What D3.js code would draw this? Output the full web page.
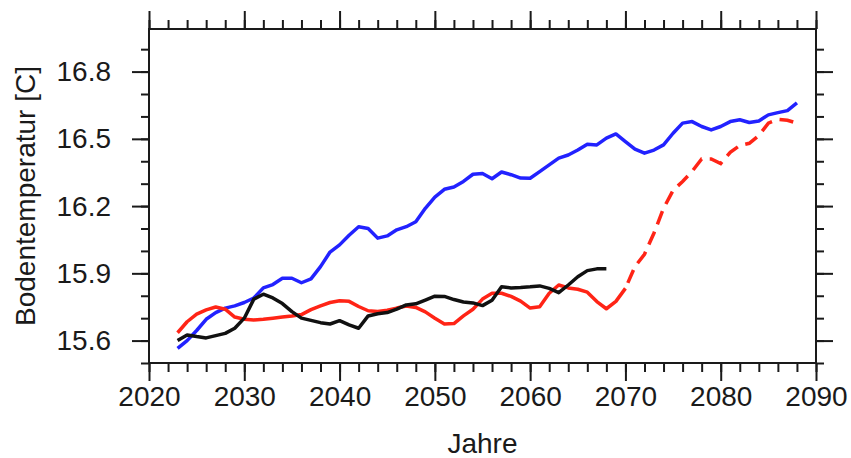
<!DOCTYPE html>
<html>
<head>
<meta charset="utf-8">
<script src="https://cdn.jsdelivr.net/npm/d3@7"></script>
<style>
  body { margin: 0; background: #fff; }
  svg text { font-family: "Liberation Sans", Arial, Helvetica, sans-serif; fill: #1a1a1a; }
</style>
</head>
<body>
<script>
// yearly values, 2023 .. 2088
var startYear = 2023;

var blueVals = [15.565, 15.60, 15.645, 15.695, 15.725, 15.745, 15.755, 15.77, 15.79, 15.835,
  15.85, 15.878, 15.878, 15.858, 15.875, 15.93, 15.995, 16.027, 16.07, 16.108,
  16.10, 16.057, 16.067, 16.094, 16.108, 16.13, 16.19, 16.24, 16.275, 16.285,
  16.31, 16.342, 16.345, 16.322, 16.352, 16.34, 16.325, 16.324, 16.354, 16.384,
  16.414, 16.428, 16.45, 16.476, 16.473, 16.503, 16.522, 16.488, 16.454, 16.436,
  16.45, 16.473, 16.525, 16.57, 16.577, 16.555, 16.54, 16.555, 16.577, 16.585,
  16.573, 16.58, 16.607, 16.617, 16.626, 16.66];

var redVals = [15.635, 15.684, 15.718, 15.737, 15.75, 15.74, 15.705, 15.695, 15.692, 15.695,
  15.70, 15.705, 15.71, 15.716, 15.738, 15.755, 15.77, 15.778, 15.775, 15.752,
  15.733, 15.73, 15.735, 15.745, 15.754, 15.748, 15.728, 15.70, 15.674, 15.676,
  15.71, 15.74, 15.785, 15.811, 15.811, 15.797, 15.776, 15.745, 15.751, 15.811,
  15.848, 15.835, 15.829, 15.816, 15.774, 15.742, 15.775, 15.833, 15.93, 15.985,
  16.08, 16.19, 16.27, 16.31, 16.355, 16.41, 16.41, 16.39, 16.44, 16.47,
  16.48, 16.515, 16.57, 16.587, 16.583, 16.57];
var redDashFrom = 2070;

var blackVals = [15.60, 15.625, 15.618, 15.612, 15.622, 15.632, 15.655, 15.70, 15.785, 15.807,
  15.79, 15.765, 15.729, 15.70, 15.69, 15.68, 15.674, 15.689, 15.67, 15.655,
  15.71, 15.72, 15.725, 15.74, 15.759, 15.764, 15.781, 15.798, 15.797, 15.783,
  15.772, 15.768, 15.756, 15.78, 15.84, 15.835, 15.837, 15.84, 15.844, 15.833,
  15.814, 15.848, 15.885, 15.912, 15.92, 15.92];

var xMajor = [2020, 2030, 2040, 2050, 2060, 2070, 2080, 2090];
var yMajor = [15.6, 15.9, 16.2, 16.5, 16.8];

var width = 851, height = 458;
var margin = {top: 29, right: 35, bottom: 95, left: 149};
var fontSize = 28;

var svg = d3.select('body').append('svg')
    .attr('width', width)
    .attr('height', height);

var x = d3.scaleLinear().domain([2020, 2090]).range([margin.left, width - margin.right]);
var y = d3.scaleLinear().domain([15.5, 16.99]).range([height - margin.bottom, margin.top]);

function toPoints(vals) {
  return vals.map(function(v, i) { return {year: startYear + i, v: v}; });
}

var line = d3.line()
    .x(function(d) { return x(d.year); })
    .y(function(d) { return y(d.v); });

var xMinor = d3.range(2020, 2091, 2);
var yMinor = d3.range(15.5, 16.99, 0.1).map(function(v) { return +v.toFixed(1); });

function styleAxis(g) {
  g.select('.domain').remove();
  g.selectAll('.tick line').attr('stroke', '#1a1a1a').attr('stroke-width', 2);
}

// minor ticks
svg.append('g').attr('transform', 'translate(0,' + y.range()[0] + ')')
  .call(d3.axisBottom(x).tickValues(xMinor).tickSize(9).tickFormat(''))
  .call(styleAxis);
svg.append('g').attr('transform', 'translate(0,' + y.range()[1] + ')')
  .call(d3.axisTop(x).tickValues(xMinor).tickSize(9).tickFormat(''))
  .call(styleAxis);
svg.append('g').attr('transform', 'translate(' + x.range()[0] + ',0)')
  .call(d3.axisLeft(y).tickValues(yMinor).tickSize(8).tickFormat(''))
  .call(styleAxis);
svg.append('g').attr('transform', 'translate(' + x.range()[1] + ',0)')
  .call(d3.axisRight(y).tickValues(yMinor).tickSize(8).tickFormat(''))
  .call(styleAxis);

// major ticks
var xAxis = svg.append('g').attr('transform', 'translate(0,' + y.range()[0] + ')')
  .call(d3.axisBottom(x).tickValues(xMajor).tickSize(18).tickPadding(5).tickFormat(d3.format('d')))
  .call(styleAxis);
xAxis.selectAll('text').attr('font-size', fontSize);

svg.append('g').attr('transform', 'translate(0,' + y.range()[1] + ')')
  .call(d3.axisTop(x).tickValues(xMajor).tickSize(18).tickFormat(''))
  .call(styleAxis);

var yAxis = svg.append('g').attr('transform', 'translate(' + x.range()[0] + ',0)')
  .call(d3.axisLeft(y).tickValues(yMajor).tickSize(17).tickPadding(21).tickFormat(d3.format('.1f')))
  .call(styleAxis);
yAxis.selectAll('text').attr('font-size', fontSize);

svg.append('g').attr('transform', 'translate(' + x.range()[1] + ',0)')
  .call(d3.axisRight(y).tickValues(yMajor).tickSize(17).tickFormat(''))
  .call(styleAxis);

// lines
var plot = svg.append('g');

plot.append('path')
  .datum(toPoints(blueVals))
  .attr('fill', 'none')
  .attr('stroke', '#2222ff')
  .attr('stroke-width', 3.5)
  .attr('stroke-linejoin', 'round')
  .attr('d', line);

var redPts = toPoints(redVals);
plot.append('path')
  .datum(redPts.filter(function(d) { return d.year <= redDashFrom; }))
  .attr('fill', 'none')
  .attr('stroke', '#ff2416')
  .attr('stroke-width', 3.5)
  .attr('stroke-linejoin', 'round')
  .attr('d', line);
plot.append('path')
  .datum(redPts.filter(function(d) { return d.year >= redDashFrom; }))
  .attr('fill', 'none')
  .attr('stroke', '#ff2416')
  .attr('stroke-width', 3.5)
  .attr('stroke-dasharray', '14,8')
  .attr('stroke-dashoffset', -6)
  .attr('d', line);

plot.append('path')
  .datum(toPoints(blackVals))
  .attr('fill', 'none')
  .attr('stroke', '#111')
  .attr('stroke-width', 3.5)
  .attr('stroke-linejoin', 'round')
  .attr('d', line);

// frame
svg.append('rect')
  .attr('x', x.range()[0])
  .attr('y', y.range()[1])
  .attr('width', x.range()[1] - x.range()[0])
  .attr('height', y.range()[0] - y.range()[1])
  .attr('fill', 'none')
  .attr('stroke', '#1a1a1a')
  .attr('stroke-width', 2);

// titles
svg.append('text')
  .attr('x', (x.range()[0] + x.range()[1]) / 2)
  .attr('y', 453)
  .attr('text-anchor', 'middle')
  .attr('font-size', fontSize)
  .text('Jahre');

svg.append('text')
  .attr('transform', 'translate(35,' + ((y.range()[0] + y.range()[1]) / 2) + ') rotate(-90)')
  .attr('text-anchor', 'middle')
  .attr('font-size', fontSize)
  .text('Bodentemperatur [C]');
</script>
</body>
</html>
